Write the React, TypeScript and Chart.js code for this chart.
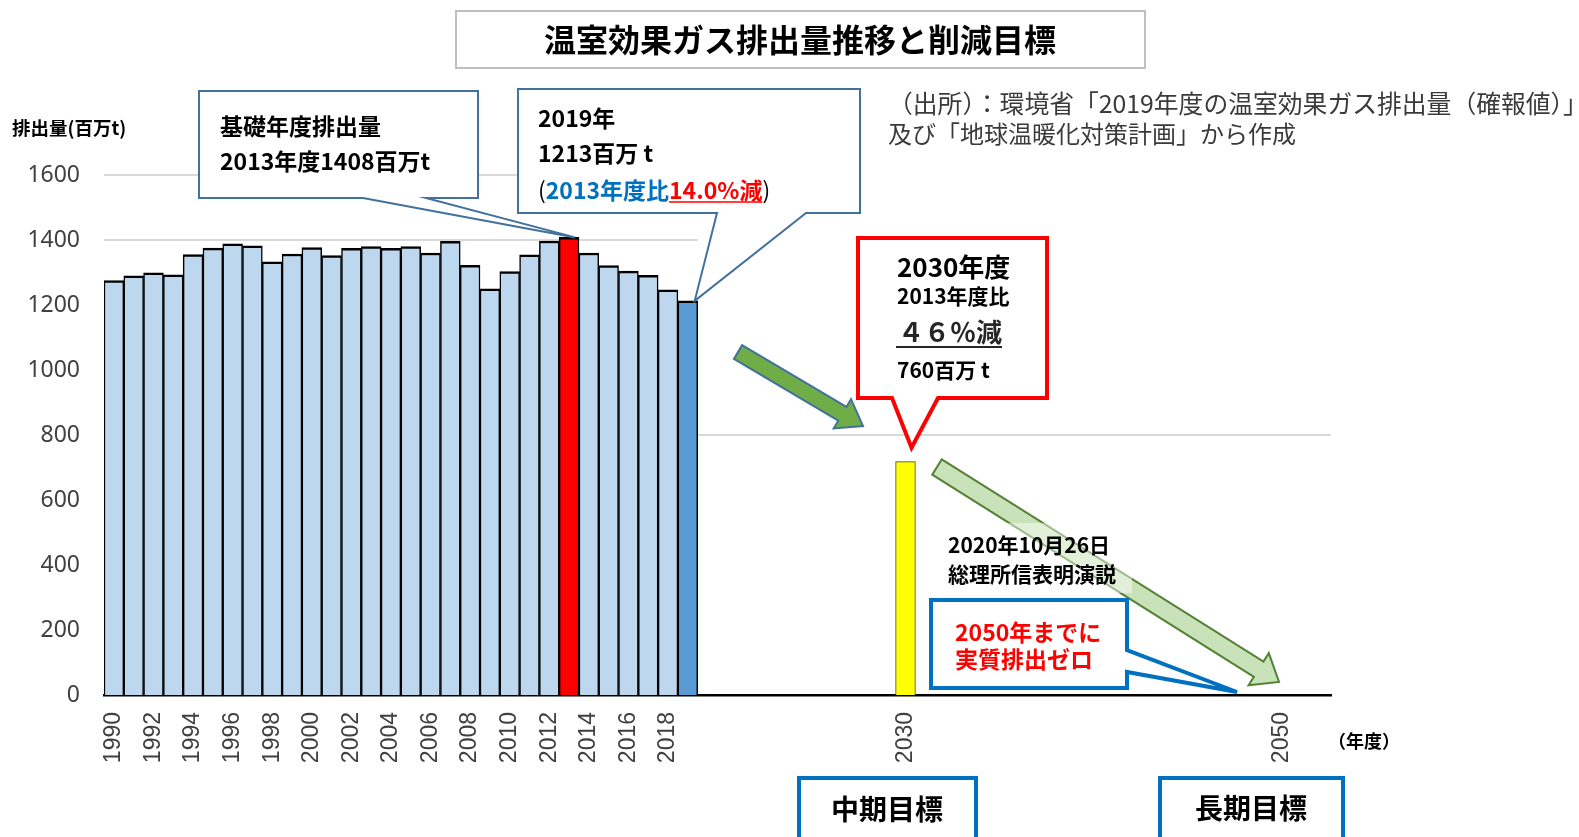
import { useEffect, useRef } from 'react';
import { Chart, registerables } from 'chart.js';

Chart.register(...registerables);

// ---- data ----
const historicalYears = ['1990','1991','1992','1993','1994','1995','1996','1997','1998','1999','2000','2001','2002','2003','2004','2005','2006','2007','2008','2009','2010','2011','2012','2013','2014','2015','2016','2017','2018','2019'];
const emissions = [1275, 1290, 1299, 1293, 1355, 1375, 1388, 1382, 1333, 1357, 1377, 1352, 1374, 1380, 1374, 1380, 1360, 1396, 1322, 1250, 1303, 1354, 1397, 1408, 1360, 1321, 1304, 1291, 1247, 1213];
const futureSlots = [
  '2020','2021','2022','2023','2024','2025','2026','2027','2028','2029',
  '2030',
  '','','','','','','','','',
  '','','','','','','','','',
  '2050',
  '','',
];
const target2030 = 718;
const target2050 = 0;
const yTickValues = [0, 200, 400, 600, 800, 1000, 1200, 1400, 1600];
const upperGridValues = [1400, 1600];
const targetGridValues = [800];

const categories = [...historicalYears, ...futureSlots];
const values = categories.map((c, i) =>
  i < historicalYears.length ? emissions[i] : c === '2030' ? target2030 : c === '2050' ? target2050 : null
);

const JP = '"Noto Sans CJK JP", "Noto Sans", sans-serif';

function barColor(label: string) {
  if (label === '2013') return '#FF0000';
  if (label === '2019') return '#5B9BD5';
  if (label === '2030') return '#FFFF00';
  return '#BDD7EE';
}

function arrow(ctx: CanvasRenderingContext2D, x1: number, y1: number, x2: number, y2: number, shaft: number, head: number, headLen: number, fill: string, stroke: string, lw: number) {
  const ang = Math.atan2(y2 - y1, x2 - x1);
  const len = Math.hypot(x2 - x1, y2 - y1);
  ctx.save();
  ctx.translate(x1, y1);
  ctx.rotate(ang);
  ctx.beginPath();
  ctx.moveTo(0, -shaft / 2);
  ctx.lineTo(len - headLen, -shaft / 2);
  ctx.lineTo(len - headLen, -head / 2);
  ctx.lineTo(len, 0);
  ctx.lineTo(len - headLen, head / 2);
  ctx.lineTo(len - headLen, shaft / 2);
  ctx.lineTo(0, shaft / 2);
  ctx.closePath();
  ctx.fillStyle = fill;
  ctx.fill();
  ctx.lineWidth = lw;
  ctx.strokeStyle = stroke;
  ctx.lineJoin = 'miter';
  ctx.stroke();
  ctx.restore();
}

function calloutBottom(ctx: CanvasRenderingContext2D, x1: number, y1: number, x2: number, y2: number, a: number, b: number, tx: number, ty: number, stroke: string, lw: number) {
  ctx.save();
  ctx.beginPath();
  ctx.moveTo(x1, y1);
  ctx.lineTo(x2, y1);
  ctx.lineTo(x2, y2);
  ctx.lineTo(b, y2);
  ctx.lineTo(tx, ty);
  ctx.lineTo(a, y2);
  ctx.lineTo(x1, y2);
  ctx.closePath();
  ctx.fillStyle = '#fff';
  ctx.fill();
  ctx.strokeStyle = stroke;
  ctx.lineWidth = lw;
  ctx.lineJoin = 'miter';
  ctx.stroke();
  ctx.restore();
}

function calloutRight(ctx: CanvasRenderingContext2D, x1: number, y1: number, x2: number, y2: number, a: number, b: number, tx: number, ty: number, stroke: string, lw: number) {
  ctx.save();
  ctx.beginPath();
  ctx.moveTo(x1, y1);
  ctx.lineTo(x2, y1);
  ctx.lineTo(x2, a);
  ctx.lineTo(tx, ty);
  ctx.lineTo(x2, b);
  ctx.lineTo(x2, y2);
  ctx.lineTo(x1, y2);
  ctx.closePath();
  ctx.fillStyle = '#fff';
  ctx.fill();
  ctx.strokeStyle = stroke;
  ctx.lineWidth = lw;
  ctx.lineJoin = 'miter';
  ctx.stroke();
  ctx.restore();
}

function text(ctx: CanvasRenderingContext2D, s: string, x: number, y: number, font: string, color: string, align: CanvasTextAlign = 'left', maxW?: number) {
  ctx.font = font;
  ctx.fillStyle = color;
  ctx.textAlign = align;
  ctx.textBaseline = 'middle';
  if (maxW) ctx.fillText(s, x, y, maxW);
  else ctx.fillText(s, x, y);
  return ctx.measureText(s).width;
}

const annotations = {
  id: 'annotations',
  beforeDatasetsDraw(chart: any) {
    const { ctx, chartArea } = chart;
    const ys = chart.scales.y;
    const meta = chart.getDatasetMeta(0);
    const last = meta.data[historicalYears.length - 1];
    const histRight = last.x + last.width / 2;
    ctx.save();
    ctx.strokeStyle = '#d9d9d9';
    ctx.lineWidth = 2;
    for (const v of upperGridValues) {
      const y = ys.getPixelForValue(v);
      ctx.beginPath();
      ctx.moveTo(chartArea.left, y);
      ctx.lineTo(histRight, y);
      ctx.stroke();
    }
    for (const v of targetGridValues) {
      const y = ys.getPixelForValue(v);
      ctx.beginPath();
      ctx.moveTo(histRight, y);
      ctx.lineTo(chartArea.right, y);
      ctx.stroke();
    }
    ctx.restore();
  },
  afterDraw(chart: any) {
    const { ctx } = chart;
    const meta = chart.getDatasetMeta(0);
    const b2013 = meta.data[historicalYears.indexOf('2013')];
    const b2019 = meta.data[historicalYears.indexOf('2019')];
    const b2030 = meta.data[categories.indexOf('2030')];
    ctx.save();

    // title box
    ctx.strokeStyle = '#bfbfbf';
    ctx.lineWidth = 2;
    ctx.fillStyle = '#fff';
    ctx.fillRect(456, 11, 689, 57);
    ctx.strokeRect(456, 11, 689, 57);
    text(ctx, '温室効果ガス排出量推移と削減目標', 800, 40, `bold 32px ${JP}`, '#000', 'center');

    // y axis title
    text(ctx, '排出量(百万t)', 12, 128, `bold 18.5px ${JP}`, '#000');

    // source
    text(ctx, '（出所）：環境省「2019年度の温室効果ガス排出量（確報値）」', 888, 104, `24.8px ${JP}`, '#3a3a3a');
    text(ctx, '及び「地球温暖化対策計画」から作成', 888, 134, `24px ${JP}`, '#3a3a3a');

    // callout 1 (2013)
    calloutBottom(ctx, 199, 91, 478, 198, 363, 426, b2013.x + 6, b2013.y, '#41719C', 2);
    text(ctx, '基礎年度排出量', 220, 126, `bold 23px ${JP}`, '#000');
    text(ctx, '2013年度1408百万t', 220, 161, `bold 23px ${JP}`, '#000');

    // callout 2 (2019)
    calloutBottom(ctx, 518, 89, 860, 213, 717, 806, b2019.x + b2019.width / 2 - 3, b2019.y, '#41719C', 2);
    text(ctx, '2019年', 538, 118, `bold 23px ${JP}`, '#000');
    text(ctx, '1213百万 t', 538, 153, `bold 23px ${JP}`, '#000');
    let x = 538;
    x += text(ctx, '(', x, 190, `23px ${JP}`, '#000');
    x += text(ctx, '2013年度比', x, 190, `bold 23px ${JP}`, '#0070C0');
    const w = text(ctx, '14.0%減', x, 190, `bold 23px ${JP}`, '#FF0000');
    ctx.strokeStyle = '#FF0000';
    ctx.lineWidth = 1.5;
    ctx.beginPath();
    ctx.moveTo(x, 202);
    ctx.lineTo(x + w, 202);
    ctx.stroke();
    x += w;
    text(ctx, ')', x, 190, `23px ${JP}`, '#000');

    // arrow 1
    arrow(ctx, 738, 352, 863, 426, 16, 34, 24, '#70AD47', '#41719C', 2);

    // red callout (2030)
    calloutBottom(ctx, 858, 238, 1047, 398, 892, 938, b2030.x + 6, b2030.y - 14, '#FF0000', 4);
    text(ctx, '2030年度', 897, 267, `bold 26px ${JP}`, '#000');
    text(ctx, '2013年度比', 897, 296, `bold 21px ${JP}`, '#000');
    text(ctx, '４６％減', 898, 332, `bold 26px ${JP}`, '#262626');
    ctx.strokeStyle = '#262626';
    ctx.lineWidth = 2;
    ctx.beginPath();
    ctx.moveTo(896, 347);
    ctx.lineTo(1002, 347);
    ctx.stroke();
    text(ctx, '760百万 t', 897, 370, `bold 21px ${JP}`, '#000');

    // arrow 2
    arrow(ctx, 937, 467, 1279, 682, 18, 38, 24, 'rgba(197,224,180,0.92)', '#548235', 2);

    // speech text with translucent background
    ctx.fillStyle = 'rgba(255,255,255,0.45)';
    ctx.fillRect(936, 523, 196, 70);
    text(ctx, '2020年10月26日', 948, 545, `bold 21px ${JP}`, '#000');
    text(ctx, '総理所信表明演説', 948, 574, `bold 21px ${JP}`, '#000');

    // blue callout
    calloutRight(ctx, 931, 600, 1127, 688, 650, 672, 1237, 692, '#0070C0', 4);
    text(ctx, '2050年までに', 955, 632, `bold 23px ${JP}`, '#FF0000');
    text(ctx, '実質排出ゼロ', 955, 659, `bold 23px ${JP}`, '#FF0000');

    // (年度)
    text(ctx, '（年度）', 1328, 741, `bold 18px ${JP}`, '#000', 'left', 72);

    // bottom boxes
    ctx.strokeStyle = '#0070C0';
    ctx.lineWidth = 4;
    ctx.strokeRect(799, 778, 177, 80);
    ctx.strokeRect(1160, 778, 183, 80);
    text(ctx, '中期目標', 887, 809, `bold 28px ${JP}`, '#000', 'center');
    text(ctx, '長期目標', 1251, 808, `bold 28px ${JP}`, '#000', 'center');

    ctx.restore();
  },
};

export default function App() {
  const ref = useRef<HTMLCanvasElement | null>(null);
  useEffect(() => {
    if (!ref.current) return;
    const shownLabels = new Set([...historicalYears.filter((_, i) => i % 2 === 0), '2030', '2050']);
    const chart = new Chart(ref.current, {
      type: 'bar',
      data: {
        labels: categories,
        datasets: [
          {
            data: values as any,
            backgroundColor: categories.map(barColor),
            borderColor: categories.map((c) => (c === '2030' ? '#404040' : '#000')),
            borderWidth: categories.map((c) => (c === '2030' ? 1 : { top: 2.5, left: 1.5, right: 1.5, bottom: 0 })) as any,
            borderSkipped: 'bottom',
            barPercentage: 1,
            categoryPercentage: 1,
          },
        ],
      },
      options: {
        animation: false,
        responsive: true,
        maintainAspectRatio: false,
        layout: { padding: { top: 175, right: 248, bottom: 0, left: 0 } },
        plugins: { legend: { display: false }, tooltip: { enabled: false }, title: { display: false } },
        scales: {
          x: {
            type: 'category',
            grid: { display: false, drawTicks: false },
            border: { display: true, color: '#000', width: 2.5 },
            ticks: {
              autoSkip: false,
              minRotation: 90,
              maxRotation: 90,
              padding: 17,
              color: '#404040',
              font: { family: '"Liberation Sans", Arial, sans-serif', size: 23 },
              callback: (_v: any, i: number) => (shownLabels.has(categories[i]) && categories[i] !== '' ? categories[i] : ''),
            },
            afterFit: (s: any) => {
              s.height = 142;
            },
          },
          y: {
            min: 0,
            max: 1600,
            grid: { display: false, drawTicks: false },
            border: { display: false },
            afterBuildTicks: (s: any) => {
              s.ticks = yTickValues.map((v) => ({ value: v }));
            },
            ticks: {
              padding: 24,
              color: '#404040',
              font: { family: '"Noto Sans", sans-serif', size: 23 },
              callback: (v: any) => String(v),
            },
            afterFit: (s: any) => {
              s.width = 104;
            },
          },
        },
      },
      plugins: [annotations],
    });
    return () => chart.destroy();
  }, []);
  return (
    <div style={{ position: 'fixed', left: 0, top: 0, width: 1579, height: 837, background: '#fff' }}>
      <canvas ref={ref} />
    </div>
  );
}
